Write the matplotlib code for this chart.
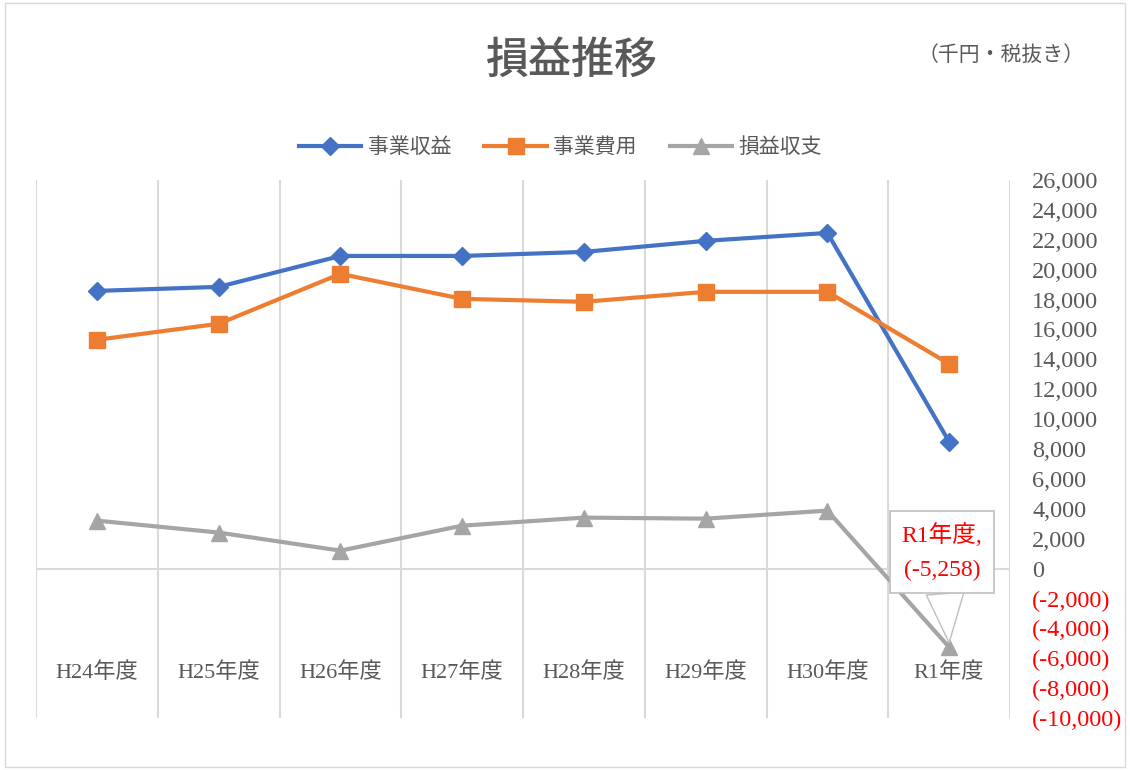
import matplotlib.pyplot as plt
import matplotlib.transforms as mtransforms

plt.rcParams['font.family'] = ['Liberation Serif', 'Noto Sans CJK JP']

# data (千円)
years = ['H24年度', 'H25年度', 'H26年度', 'H27年度', 'H28年度', 'H29年度', 'H30年度', 'R1年度']
revenue = [18580, 18850, 20920, 20920, 21190, 21930, 22460, 8490]
expense = [15310, 16380, 19720, 18050, 17850, 18520, 18520, 13700]
balance = [3210, 2410, 1200, 2870, 3410, 3340, 3880, -5258]
yticks = list(range(-10000, 26001, 2000))

grey_text = '#595959'
grid_c = '#d9d9d9'

fig = plt.figure(figsize=(11.3, 7.7), dpi=100)
ax = fig.add_axes([0.0319, 0.0675, 0.8619, 0.6987])

x = list(range(len(years)))
ax.plot(x, revenue, color='#4472C4', lw=3, marker='D', ms=9, label='事業収益', zorder=4)
ax.plot(x, expense, color='#ED7D31', lw=3, marker='s', ms=12, label='事業費用', zorder=4)
ax.plot(x, balance, color='#A5A5A5', lw=3, marker='^', ms=12, label='損益収支', zorder=4)

ax.set_xlim(-0.5, len(years) - 0.5)
ax.set_ylim(-10000, 26000)

# category boundaries as vertical grid lines
for b in range(len(years) + 1):
    ax.axvline(b - 0.5, color=grid_c, lw=1.5, zorder=1)
ax.axhline(0, color=grid_c, lw=1.5, zorder=1)

for s in ax.spines.values():
    s.set_visible(False)

ax.set_xticks([])
ax.yaxis.tick_right()
labels = []
for v in yticks:
    if v < 0:
        labels.append('(-{:,})'.format(-v))
    else:
        labels.append('{:,}'.format(v))
ax.set_yticks(yticks, labels)
ax.tick_params(axis='y', length=0, pad=16, labelsize=17.5)
for t, v in zip(ax.get_yticklabels(), yticks):
    t.set_color('red' if v < 0 else grey_text)
    t.set_horizontalalignment('left')

# category labels sit inside the plot near the bottom
trans = mtransforms.blended_transform_factory(ax.transData, ax.transAxes)
for i, name in enumerate(years):
    ax.text(i, 0.085, name, transform=trans, ha='center', va='center',
            fontsize=16, color=grey_text)

# callout for the R1 deficit
ax.annotate('R1年度,\n(-5,258)', xy=(7, balance[-1] + 300), xytext=(6.94, 1100),
            ha='center', va='center', fontsize=17, color='red', linespacing=1.8,
            bbox=dict(boxstyle='square,pad=0.5', fc='white', ec='#bfbfbf', lw=1.2),
            arrowprops=dict(arrowstyle='wedge,tail_width=1.6', fc='white',
                            ec='#bfbfbf', lw=1, shrinkA=0, shrinkB=0),
            zorder=6)

fig.text(0.506, 0.922, '損益推移', ha='center', va='center', fontsize=31,
         color=grey_text, fontweight='medium', family=['Noto Sans CJK JP'])
fig.text(0.886, 0.929, '（千円・税抜き）', ha='center', va='center', fontsize=15,
         color=grey_text, family=['Noto Sans CJK JP'])

fig.legend(loc='center', bbox_to_anchor=(0.496, 0.809), ncol=3, frameon=False,
           handlelength=3, columnspacing=1.6, handletextpad=0.3,
           labelcolor=grey_text, prop={'family': ['Noto Sans CJK JP'], 'size': 15})

# light chart border
fig.patches.append(plt.Rectangle((0.004, 0.004), 0.992, 0.992, transform=fig.transFigure,
                                 fill=False, ec='#d9d9d9', lw=1))

fig.savefig('out.png', dpi=100)
